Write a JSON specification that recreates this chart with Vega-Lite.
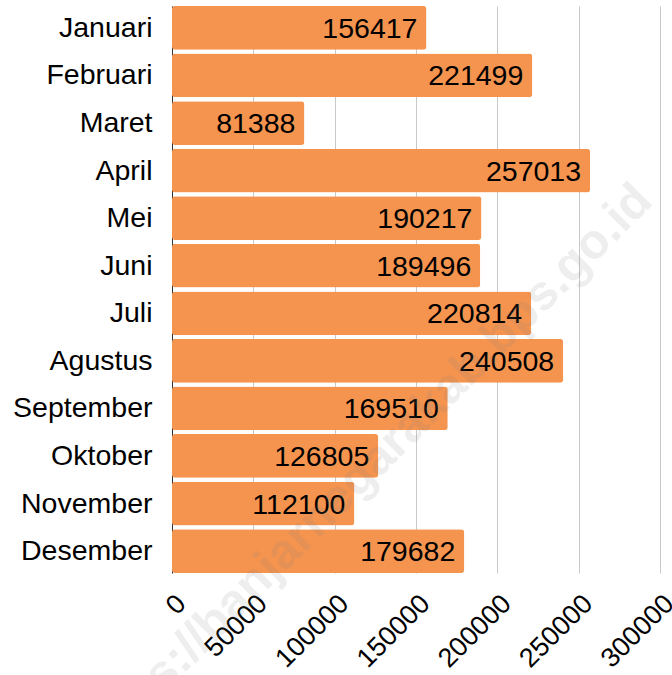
{
  "$schema": "https://vega.github.io/schema/vega-lite/v6.json",
  "width": 488,
  "height": 567,
  "autosize": {"type": "none"},
  "padding": {"left": 172, "top": 6, "right": 12, "bottom": 102},
  "background": "white",
  "config": {
    "view": {"stroke": null},
    "font": "Liberation Sans",
    "axis": {"labelFont": "Liberation Sans", "labelColor": "#000000"}
  },
  "datasets": {
    "bars": [
      {"bulan": "Januari", "nilai": 156417},
      {"bulan": "Februari", "nilai": 221499},
      {"bulan": "Maret", "nilai": 81388},
      {"bulan": "April", "nilai": 257013},
      {"bulan": "Mei", "nilai": 190217},
      {"bulan": "Juni", "nilai": 189496},
      {"bulan": "Juli", "nilai": 220814},
      {"bulan": "Agustus", "nilai": 240508},
      {"bulan": "September", "nilai": 169510},
      {"bulan": "Oktober", "nilai": 126805},
      {"bulan": "November", "nilai": 112100},
      {"bulan": "Desember", "nilai": 179682}
    ],
    "wm": [
      {"bulan": "April", "nilai": 290000, "teks": "https://banjarnegarakab.bps.go.id"}
    ]
  },
  "layer": [
    {
      "data": {"name": "bars"},
      "mark": {"type": "bar", "color": "#F5944F", "cornerRadius": 3},
      "encoding": {
        "y": {
          "field": "bulan", "type": "nominal", "sort": null,
          "scale": {"paddingInner": 0.08, "paddingOuter": 0},
          "axis": {"title": null, "ticks": false, "domain": true, "domainColor": "#333333", "labelFontSize": 28.5, "labelPadding": 20, "grid": false}
        },
        "x": {
          "field": "nilai", "type": "quantitative",
          "scale": {"domain": [0, 300000], "nice": false},
          "axis": {"title": null, "values": [0, 50000, 100000, 150000, 200000, 250000, 300000], "format": "d", "labelAngle": -45, "labelFontSize": 27, "labelPadding": 17, "ticks": false, "domain": false, "grid": true, "gridColor": "#c8c8c8", "labelFlush": false, "labelOverlap": false}
        }
      }
    },
    {
      "data": {"name": "bars"},
      "mark": {"type": "text", "align": "right", "baseline": "middle", "dx": -9, "dy": 1, "fontSize": 28.5, "color": "#000000"},
      "encoding": {
        "y": {"field": "bulan", "type": "nominal", "sort": null},
        "x": {"field": "nilai", "type": "quantitative"},
        "text": {"field": "nilai", "type": "quantitative", "format": "d"}
      }
    },
    {
      "data": {"name": "wm"},
      "mark": {"type": "text", "align": "right", "baseline": "middle", "angle": -45, "fontSize": 49, "fontWeight": "bold", "color": "#808080", "opacity": 0.13},
      "encoding": {
        "y": {"field": "bulan", "type": "nominal", "sort": null, "bandPosition": 1},
        "x": {"field": "nilai", "type": "quantitative"},
        "text": {"field": "teks"}
      }
    }
  ]
}
